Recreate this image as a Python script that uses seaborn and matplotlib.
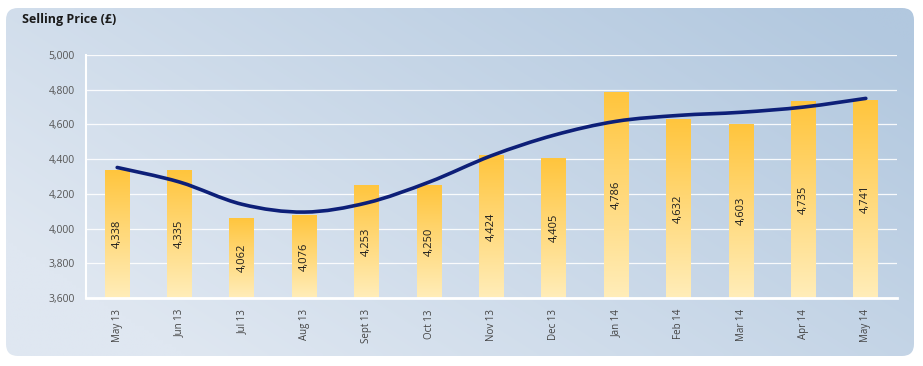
import numpy as np
import matplotlib
matplotlib.use("Agg")
import matplotlib.pyplot as plt
import seaborn as sns
from matplotlib.patches import FancyBboxPatch, PathPatch
from matplotlib.path import Path
from matplotlib.colors import to_rgb
from matplotlib.ticker import FuncFormatter, MultipleLocator

# data
months = ["May 13", "Jun 13", "Jul 13", "Aug 13", "Sept 13", "Oct 13", "Nov 13",
          "Dec 13", "Jan 14", "Feb 14", "Mar 14", "Apr 14", "May 14"]
prices = [4338, 4335, 4062, 4076, 4253, 4250, 4424, 4405, 4786, 4632, 4603, 4735, 4741]
trend = [4352, 4268, 4140, 4095, 4148, 4268, 4420, 4538, 4618, 4652, 4670, 4700, 4750]

sns.set_theme(style="white")
plt.rcParams["font.family"] = ["Open Sans", "DejaVu Sans"]

W, H = 923, 366
fig = plt.figure(figsize=(W / 100, H / 100), dpi=100)
fig.patch.set_facecolor("white")

# rounded panel with a soft blue gradient
bg = fig.add_axes([0, 0, 1, 1], zorder=-1)
bg.set_xlim(0, W)
bg.set_ylim(H, 0)
bg.axis("off")
gx, gy = np.meshgrid(np.linspace(0, 1, 200), np.linspace(0, 1, 100))
t = np.clip(0.75 * gx + 0.45 * (1 - gy) - 0.15, 0, 1)[..., None]
c0, c1 = np.array(to_rgb("#dfe7f1")), np.array(to_rgb("#b2c8df"))
grad = c0 * (1 - t) + c1 * t
panel = FancyBboxPatch((18, 20), 884, 324, boxstyle="round,pad=12,rounding_size=12",
                       facecolor="none", edgecolor="none")
bg.add_patch(panel)
im = bg.imshow(grad, extent=[6, 914, 356, 8], aspect="auto", interpolation="bilinear")
im.set_clip_path(panel)

ax = fig.add_axes([86 / W, 1 - 298 / H, 811 / W, 243 / H])
ax.set_facecolor("none")

sns.barplot(x=months, y=prices, width=0.4, ax=ax, color="#ffc640", saturation=1)
ax.set_ylim(3600, 5000)
ax.set_xlim(-0.5, len(months) - 0.5)

# vertical gradient inside each bar
bar_grad = np.linspace(0, 1, 100)[:, None, None]
top, bottom = np.array(to_rgb("#ffc53d")), np.array(to_rgb("#ffedb9"))
bar_img = top * (1 - bar_grad) + bottom * bar_grad
for p, v in zip(ax.patches, prices):
    x0, w = p.get_x(), p.get_width()
    p.set_facecolor("none")
    p.set_edgecolor("none")
    img = ax.imshow(bar_img, extent=[x0, x0 + w, 3600, v], aspect="auto",
                    interpolation="bilinear", zorder=2)
    img.set_clip_path(p)
    ax.text(x0 + w / 2, (3600 + v) / 2, f"{v:,}", rotation=90, ha="center",
            va="center", fontsize=8, color="#1e1e1e", zorder=4)

# smooth trend line: bezier segments through the read trend values
xs = np.arange(len(trend), dtype=float)
ys = np.array(trend, dtype=float)
verts = [(xs[0], ys[0])]
codes = [Path.MOVETO]
for i in range(len(xs) - 1):
    p0 = (xs[max(i - 1, 0)], ys[max(i - 1, 0)])
    p3 = (xs[min(i + 2, len(xs) - 1)], ys[min(i + 2, len(xs) - 1)])
    c1p = (xs[i] + (xs[i + 1] - p0[0]) / 6, ys[i] + (ys[i + 1] - p0[1]) / 6)
    c2p = (xs[i + 1] - (p3[0] - xs[i]) / 6, ys[i + 1] - (p3[1] - ys[i]) / 6)
    verts += [c1p, c2p, (xs[i + 1], ys[i + 1])]
    codes += [Path.CURVE4] * 3
ax.add_patch(PathPatch(Path(verts, codes), facecolor="none", edgecolor="#0d1f78",
                       linewidth=2.6, capstyle="round", zorder=5))

ax.yaxis.set_major_locator(MultipleLocator(200))
ax.yaxis.set_major_formatter(FuncFormatter(lambda v, _: f"{int(v):,}"))
ax.grid(axis="y", color="white", linewidth=0.9, alpha=0.9)
ax.set_axisbelow(True)
ax.tick_params(axis="y", length=0, labelsize=7.5, labelcolor="#555555", pad=8)
ax.tick_params(axis="x", length=0, labelsize=7, labelcolor="#444444", pad=8,
               labelrotation=90)
ax.set_xticks(np.arange(-0.5, len(months)), minor=True)
ax.tick_params(axis="x", which="minor", length=4, color="white", width=0.8,
               direction="out")
ax.set_xlabel("")
ax.set_ylabel("")
for side in ["top", "right"]:
    ax.spines[side].set_visible(False)
ax.spines["left"].set_color("white")
ax.spines["left"].set_linewidth(1.5)
ax.spines["bottom"].set_color("white")
ax.spines["bottom"].set_linewidth(2)

fig.text(22 / W, 1 - 20 / H, "Selling Price (£)", fontsize=9, fontweight="bold",
         color="#1a1a1a", ha="left", va="center")

fig.savefig("out.png", dpi=100)
